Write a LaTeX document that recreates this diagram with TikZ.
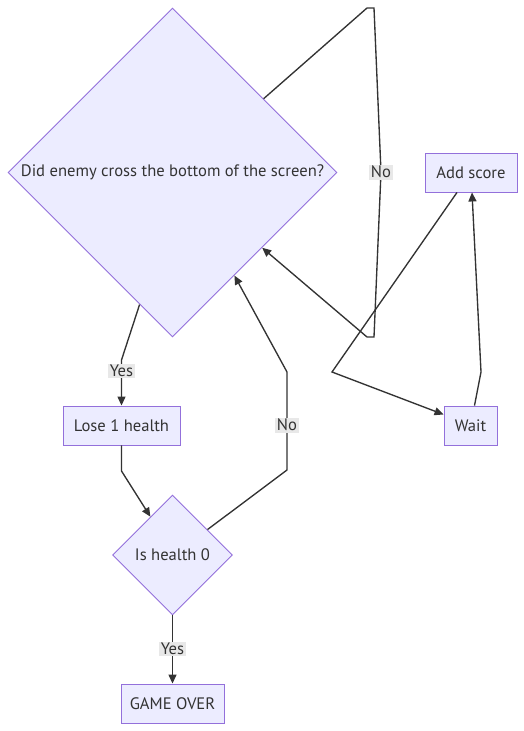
\documentclass[tikz,border=0pt]{standalone}
\usepackage{fontspec}
\setmainfont{PT Sans}
\usetikzlibrary{shapes.geometric,arrows.meta,calc}
\definecolor{nodefill}{HTML}{ECECFF}
\definecolor{nodeline}{HTML}{9370DB}
\definecolor{edgecol}{HTML}{333333}
\definecolor{lblbg}{HTML}{E8E8E8}
\definecolor{txt}{HTML}{333333}
\begin{document}
\begin{tikzpicture}[x=1pt,y=-1pt,
 font=\fontsize{16.6}{19}\selectfont,
 box/.style={draw=nodeline, fill=nodefill, line width=0.9pt, minimum height=39pt, text=txt, inner sep=0pt},
 dia/.style={diamond, draw=nodeline, fill=nodefill, line width=0.9pt, aspect=1, inner sep=0pt, text=txt},
 conn/.style={draw=edgecol, line width=1.35pt, -{Triangle[length=9pt,width=8pt]}},
 elabel/.style={fill=lblbg, text=txt, inner sep=1.5pt}]
\useasboundingbox (0,0) rectangle (524,731);
\node[dia, minimum size=329pt] (d1) at (172.5,172.5) {Did enemy cross the bottom of the screen?};
\node[box, minimum width=92pt] (add) at (471,172.5) {Add score};
\node[box, minimum width=53pt] (wait) at (470.5,425.5) {Wait};
\node[box, minimum width=117pt] (lose) at (121.5,425.5) {Lose 1 health};
\node[dia, minimum size=120pt] (d2) at (172.5,555) {Is health 0};
\node[box, minimum width=103pt] (go) at (172.5,703.5) {GAME OVER};
% bend points
\coordinate (n1a) at (367,8);
\coordinate (n1b) at (374,8);
\coordinate (n1m) at (381,172);
\coordinate (n1c) at (374,337);
\coordinate (n1d) at (367,337);
\coordinate (aw) at (332,372);
\coordinate (wa) at (481,372);
\coordinate (y1a) at (121.5,360);
\coordinate (y1m) at (121.5,371);
\coordinate (lb) at (121.5,471);
\coordinate (n2a) at (287,470);
\coordinate (n2m) at (287,425);
\coordinate (n2b) at (287,372);
\coordinate (y2m) at (172.5,649);
% connectors
\draw[conn] (d1.39.5) -- (n1a) -- (n1b) -- (n1m) -- (n1c) -- (n1d) -- (d1.-40.5);
\draw[conn] ([xshift=-14pt]add.south) -- (aw) -- ([yshift=11pt]wait.west);
\draw[conn] ([xshift=4pt]wait.north) -- (wa) -- ([xshift=1pt]add.south);
\draw[conn] (d1.-104) -- (y1a) -- (lose.north);
\draw[conn] (lose.south) -- (lb) -- (d2.120);
\draw[conn] (d2.36.6) -- (n2a) -- (n2b) -- (d1.-59.8);
\draw[conn] (d2.south) -- (go.north);
% labels
\node[elabel] (l1) at (n1m) {No};
\node[elabel] (l2) at (y1m) {Yes};
\node[elabel] (l3) at (n2m) {No};
\node[elabel] (l4) at (y2m) {Yes};
\end{tikzpicture}
\end{document}
